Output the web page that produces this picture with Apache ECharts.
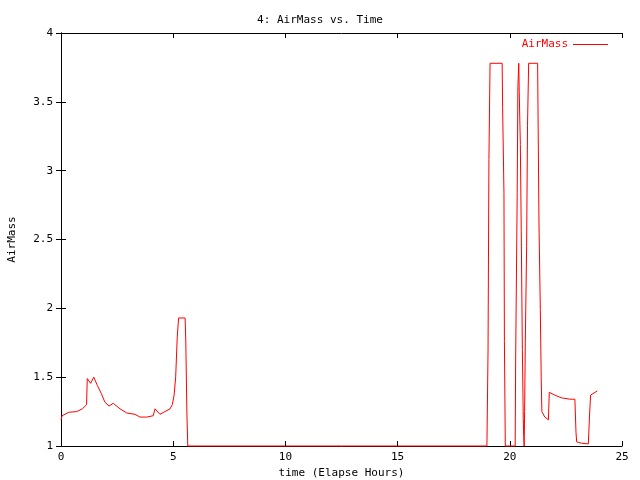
<!DOCTYPE html>
<html>
<head>
<meta charset="utf-8">
<script src="https://cdn.jsdelivr.net/npm/echarts@6/dist/echarts.min.js"></script>
<style>html,body{margin:0;padding:0;background:#fff}#c{width:640px;height:480px}</style>
</head>
<body>
<div id="c"></div>
<script>
var timeHours = [0, 0.05, 0.35, 0.7, 0.95, 1.14, 1.17, 1.32, 1.46, 1.62, 1.8, 1.95, 2.14, 2.33, 2.63, 2.93, 3.3, 3.52, 3.82, 4.11, 4.19, 4.26, 4.41, 4.63, 4.86, 4.96, 5.04, 5.11, 5.18, 5.24, 5.53, 5.56, 5.61, 5.65,
  10, 15, 18.98,
  19.03, 19.07, 19.12, 19.66, 19.68, 19.74, 19.76, 19.80, 20.24, 20.26, 20.33, 20.36, 20.40, 20.42, 20.47, 20.51, 20.56, 20.60, 20.62, 20.64,
  20.66, 20.69, 20.75, 20.79, 20.84, 21.24, 21.26, 21.30, 21.36, 21.40, 21.43, 21.56, 21.72, 21.76, 22.0, 22.3, 22.68, 22.9, 22.95, 22.98, 23.2, 23.5, 23.55, 23.6, 23.9];
var airMass = [1.19, 1.22, 1.245, 1.25, 1.27, 1.30, 1.49, 1.455, 1.50, 1.44, 1.38, 1.32, 1.29, 1.31, 1.27, 1.24, 1.23, 1.21, 1.21, 1.22, 1.27, 1.27, 1.23, 1.25, 1.27, 1.30, 1.37, 1.50, 1.79, 1.93, 1.93, 1.77, 1.24, 1.0,
  1.0, 1.0, 1.0,
  1.69, 3.08, 3.78, 3.78, 3.46, 2.84, 1.76, 1.0, 1.0, 1.61, 2.84, 3.61, 3.78, 3.57, 3.19, 2.56, 1.70, 1.20, 1.07, 1.0,
  1.25, 1.75, 2.45, 3.33, 3.78, 3.78, 3.39, 2.62, 1.99, 1.49, 1.25, 1.21, 1.19, 1.39, 1.37, 1.35, 1.34, 1.34, 1.10, 1.03, 1.02, 1.015, 1.21, 1.37, 1.40];
var xTicks = [0, 5, 10, 15, 20, 25];
var yTicks = [1, 1.5, 2, 2.5, 3, 3.5, 4];

var font = 'DejaVu Sans Mono';
var pts = timeHours.map(function (t, i) { return [t, airMass[i]]; });
var chart = echarts.init(document.getElementById('c'), null, {renderer: 'canvas'});
var axisCommon = {
  axisLine: {show: true, lineStyle: {color: '#000', width: 1}},
  axisTick: {show: true, inside: true, length: 5, lineStyle: {color: '#000'}},
  splitLine: {show: false}
};
chart.setOption({
  animation: false,
  backgroundColor: '#fff',
  color: ['#ff0000'],
  title: {text: '4: AirMass vs. Time', left: 'center', top: 10,
    textStyle: {fontFamily: font, fontSize: 11, fontWeight: 'normal', color: '#000'}},
  legend: {right: 27, top: 34, itemWidth: 35, itemHeight: 1, align: 'right', itemGap: 5,
    textStyle: {fontFamily: font, fontSize: 11, color: '#ff0000'},
    data: [{name: 'AirMass', icon: 'rect', itemStyle: {color: '#ff0000', borderWidth: 0, opacity: 1}}]},
  grid: {left: 61, right: 18, top: 33, bottom: 34, containLabel: false, outerBoundsMode: 'none'},
  xAxis: [
    Object.assign({type: 'value', position: 'bottom', min: xTicks[0], max: xTicks[xTicks.length - 1], interval: 5,
      name: 'time (Elapse Hours)', nameLocation: 'middle', nameGap: 20,
      nameTextStyle: {fontFamily: font, fontSize: 11, color: '#000'},
      axisLabel: {fontFamily: font, fontSize: 11, color: '#000', margin: 6}}, axisCommon),
    Object.assign({type: 'value', position: 'top', min: xTicks[0], max: xTicks[xTicks.length - 1], interval: 5,
      axisLabel: {show: false}}, axisCommon)
  ],
  yAxis: [
    Object.assign({type: 'value', position: 'left', min: yTicks[0], max: yTicks[yTicks.length - 1], interval: 0.5,
      name: 'AirMass', nameLocation: 'middle', nameGap: 43, nameRotate: 90,
      nameTextStyle: {fontFamily: font, fontSize: 11, color: '#000'},
      axisLabel: {fontFamily: font, fontSize: 11, color: '#000', margin: 8}}, axisCommon),
    Object.assign({type: 'value', position: 'right', min: yTicks[0], max: yTicks[yTicks.length - 1], interval: 0.5,
      axisLabel: {show: false}}, axisCommon)
  ],
  series: [{
    name: 'AirMass', type: 'line', data: pts, xAxisIndex: 0, yAxisIndex: 0, color: '#ff0000',
    symbol: 'none', showSymbol: false, clip: false, z: 5,
    lineStyle: {color: '#ff0000', width: 1}, itemStyle: {color: '#ff0000'}
  }]
});
</script>
</body>
</html>
